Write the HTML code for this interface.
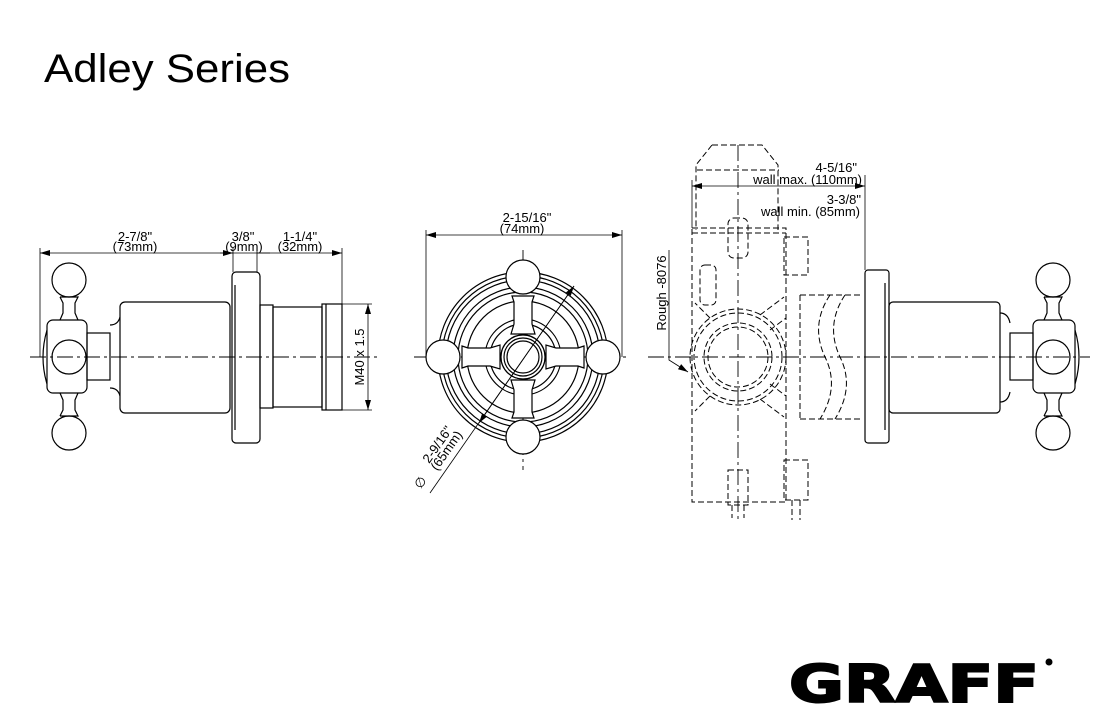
<!DOCTYPE html>
<html><head><style>
body{margin:0;background:#fff;width:1099px;height:724px;overflow:hidden}
svg{display:block}
text{font-family:"Liberation Sans",Arial,sans-serif;fill:#000}
</style></head><body>
<svg width="1099" height="724" viewBox="0 0 1099 724" xmlns="http://www.w3.org/2000/svg">
<defs>
<marker id="a" markerWidth="10" markerHeight="6" refX="10" refY="3" orient="auto-start-reverse" markerUnits="userSpaceOnUse"><path d="M0,0 L10,3 L0,6z" fill="#000"/></marker>
</defs>
<text x="44" y="82" font-size="40" textLength="246" lengthAdjust="spacingAndGlyphs">Adley Series</text>

<g fill="none" stroke="#000" stroke-width="1.2">
<!-- LEFT VIEW -->
<line x1="30" y1="357" x2="378" y2="357" stroke-dasharray="16,4,3,4" stroke-width="0.9"/>
<circle cx="69" cy="280" r="17"/><circle cx="69" cy="433" r="17"/><circle cx="69" cy="357" r="17"/>
<path d="M60,297 h18 l-3,6 v10 l3,7 M60,297 l3,6 v10 l-3,7"/>
<path d="M60,416 h18 l-3,-6 v-10 l3,-7 M60,416 l3,-6 v-10 l-3,-7"/>
<rect x="47" y="320" width="40" height="73" rx="6"/>
<path d="M47,330 q-8,27 0,54"/>
<rect x="87" y="333" width="23" height="47"/>
<path d="M110,325 q8,0 10,-8 M110,388 q8,0 10,8"/>
<rect x="120" y="302" width="110" height="111" rx="5"/>
<rect x="232" y="272" width="28" height="171" rx="4"/>
<line x1="235" y1="285" x2="235" y2="430"/>
<rect x="260" y="305" width="13" height="103"/>
<rect x="273" y="307" width="49" height="100"/>
<rect x="322" y="304" width="20" height="106"/>
<line x1="326" y1="304" x2="326" y2="410"/>
<line x1="40" y1="248" x2="40" y2="357" stroke-width="0.8"/>
<line x1="233" y1="248" x2="233" y2="272" stroke-width="0.8"/>
<line x1="257" y1="248" x2="257" y2="272" stroke-width="0.8"/>
<line x1="342" y1="248" x2="342" y2="304" stroke-width="0.8"/>
<line x1="40" y1="253" x2="233" y2="253" stroke-width="0.8" marker-start="url(#a)" marker-end="url(#a)"/>
<line x1="220" y1="253" x2="270" y2="253" stroke-width="0.8"/>
<line x1="257" y1="253" x2="342" y2="253" stroke-width="0.8" marker-end="url(#a)"/>
<line x1="342" y1="304" x2="372" y2="304" stroke-width="0.8"/>
<line x1="342" y1="410" x2="372" y2="410" stroke-width="0.8"/>
<line x1="368" y1="304" x2="368" y2="410" stroke-width="0.8" marker-start="url(#a)" marker-end="url(#a)"/>

<!-- MIDDLE VIEW -->
<line x1="414" y1="357" x2="630" y2="357" stroke-dasharray="16,4,3,4" stroke-width="0.9"/>
<line x1="523" y1="250" x2="523" y2="470" stroke-dasharray="16,4,3,4" stroke-width="0.9"/>
<circle cx="523" cy="357" r="85"/><circle cx="523" cy="357" r="81"/><circle cx="523" cy="357" r="77"/>
<circle cx="523" cy="357" r="70"/><circle cx="523" cy="357" r="65"/><circle cx="523" cy="357" r="56"/>
<circle cx="523" cy="357" r="38"/><circle cx="523" cy="357" r="33"/><circle cx="523" cy="357" r="22"/><circle cx="523" cy="357" r="19"/>
<g fill="#fff">
<path d="M512,296 h22 l-2,6 v22 l3,10 h-24 l3,-10 v-22z"/>
<path d="M512,418 h22 l-2,-6 v-22 l3,-10 h-24 l3,10 v22z"/>
<path d="M462,346 v22 l6,-2 h22 l10,3 v-24 l-10,3 h-22z"/>
<path d="M584,346 v22 l-6,-2 h-22 l-10,3 v-24 l10,3 h22z"/>
<circle cx="523" cy="277" r="17"/><circle cx="523" cy="437" r="17"/>
<circle cx="443" cy="357" r="17"/><circle cx="603" cy="357" r="17"/>
</g>
<circle cx="523" cy="357" r="22" fill="#fff"/><circle cx="523" cy="357" r="19"/><circle cx="523" cy="357" r="16"/>
<line x1="426" y1="230" x2="426" y2="357" stroke-width="0.8"/>
<line x1="622" y1="230" x2="622" y2="357" stroke-width="0.8"/>
<line x1="426" y1="235" x2="622" y2="235" stroke-width="0.8" marker-start="url(#a)" marker-end="url(#a)"/>
<line x1="430" y1="493" x2="574" y2="286" stroke-width="0.8" marker-end="url(#a)"/>
<line x1="574" y1="286" x2="479" y2="423" stroke-width="0.8" marker-end="url(#a)"/>

<!-- RIGHT VIEW -->
<line x1="648" y1="357" x2="1090" y2="357" stroke-dasharray="16,4,3,4" stroke-width="0.9"/>
<line x1="738" y1="145" x2="738" y2="520" stroke-dasharray="16,4,3,4" stroke-width="0.9"/>
<g stroke-dasharray="6,3" stroke-width="1">
<path d="M712,145 h50 l16,20 v65 M712,145 l-16,20 v65"/>
<line x1="697" y1="170" x2="779" y2="170"/>
<rect x="692" y="228" width="94" height="274"/>
<line x1="692" y1="233" x2="786" y2="233"/>
<rect x="728" y="218" width="20" height="40" rx="6"/>
<rect x="784" y="237" width="24" height="38"/>
<rect x="784" y="460" width="24" height="40"/>
<rect x="728" y="470" width="20" height="35"/>
<line x1="732" y1="505" x2="732" y2="518"/><line x1="744" y1="505" x2="744" y2="518"/>
<line x1="792" y1="500" x2="792" y2="520"/><line x1="800" y1="500" x2="800" y2="520"/>
<rect x="700" y="265" width="16" height="40" rx="5"/>
<circle cx="738" cy="357" r="48"/><circle cx="738" cy="357" r="44"/>
<circle cx="738" cy="357" r="34"/><circle cx="738" cy="357" r="30"/>
<path d="M760,315 l24,-18 M770,330 l16,-12 M760,399 l24,18 M770,384 l16,12 M710,318 l-15,-15 M710,396 l-15,15"/>
<path d="M800,295 h60 M800,419 h60 M800,295 v124"/>
<path d="M830,295 q-20,30 -5,62 q15,30 -5,62 M845,295 q-20,30 -5,62 q15,30 -5,62"/>
</g>
<rect x="865" y="270" width="24" height="173" rx="3"/>
<line x1="885" y1="283" x2="885" y2="430"/>
<rect x="889" y="302" width="111" height="111" rx="4"/>
<path d="M1000,313 q8,0 10,10 M1000,402 q8,0 10,-10"/>
<rect x="1010" y="333" width="23" height="47"/>
<rect x="1033" y="320" width="42" height="73" rx="6"/>
<path d="M1075,330 q8,27 0,54"/>
<circle cx="1053" cy="280" r="17"/><circle cx="1053" cy="433" r="17"/><circle cx="1053" cy="357" r="17"/>
<path d="M1044,297 h18 l-3,6 v10 l3,7 M1044,297 l3,6 v10 l-3,7"/>
<path d="M1044,416 h18 l-3,-6 v-10 l3,-7 M1044,416 l3,-6 v-10 l-3,-7"/>
<line x1="692" y1="180" x2="692" y2="228" stroke-width="0.8"/>
<line x1="865" y1="175" x2="865" y2="270" stroke-width="0.8"/>
<line x1="692" y1="186" x2="865" y2="186" stroke-width="0.8" marker-start="url(#a)" marker-end="url(#a)"/>
<path d="M669,250 v110 l19,12" stroke-width="0.8" marker-end="url(#a)"/>
</g>

<g font-size="13">
<text x="135" y="241" text-anchor="middle">2-7/8"</text>
<text x="135" y="251" text-anchor="middle">(73mm)</text>
<text x="243" y="241" text-anchor="middle">3/8"</text>
<text x="244" y="251" text-anchor="middle">(9mm)</text>
<text x="300" y="241" text-anchor="middle">1-1/4"</text>
<text x="300" y="251" text-anchor="middle">(32mm)</text>
<text transform="translate(364,357) rotate(-90)" text-anchor="middle">M40 x 1.5</text>
<text x="527" y="222" text-anchor="middle">2-15/16"</text>
<text x="522" y="233" text-anchor="middle">(74mm)</text>
<text transform="translate(441,447) rotate(-55)" text-anchor="middle">2-9/16"</text>
<text transform="translate(450,453) rotate(-55)" text-anchor="middle">(65mm)</text>
<text transform="translate(424,485) rotate(-55)" text-anchor="middle">∅</text>
<text x="857" y="172" text-anchor="end">4-5/16"</text>
<text x="862" y="184" text-anchor="end">wall max. (110mm)</text>
<text x="861" y="204" text-anchor="end">3-3/8"</text>
<text x="860" y="216" text-anchor="end">wall min. (85mm)</text>
<text transform="translate(666,293) rotate(-90)" text-anchor="middle">Rough -8076</text>
</g>
<text x="789" y="702" font-size="52" font-weight="bold" stroke="#000" stroke-width="2" style="font-family:'DejaVu Sans','Liberation Sans',sans-serif" textLength="250" lengthAdjust="spacingAndGlyphs">GRAFF</text>
<circle cx="1049" cy="662" r="3.5" fill="#000"/>
</svg>
</body></html>
